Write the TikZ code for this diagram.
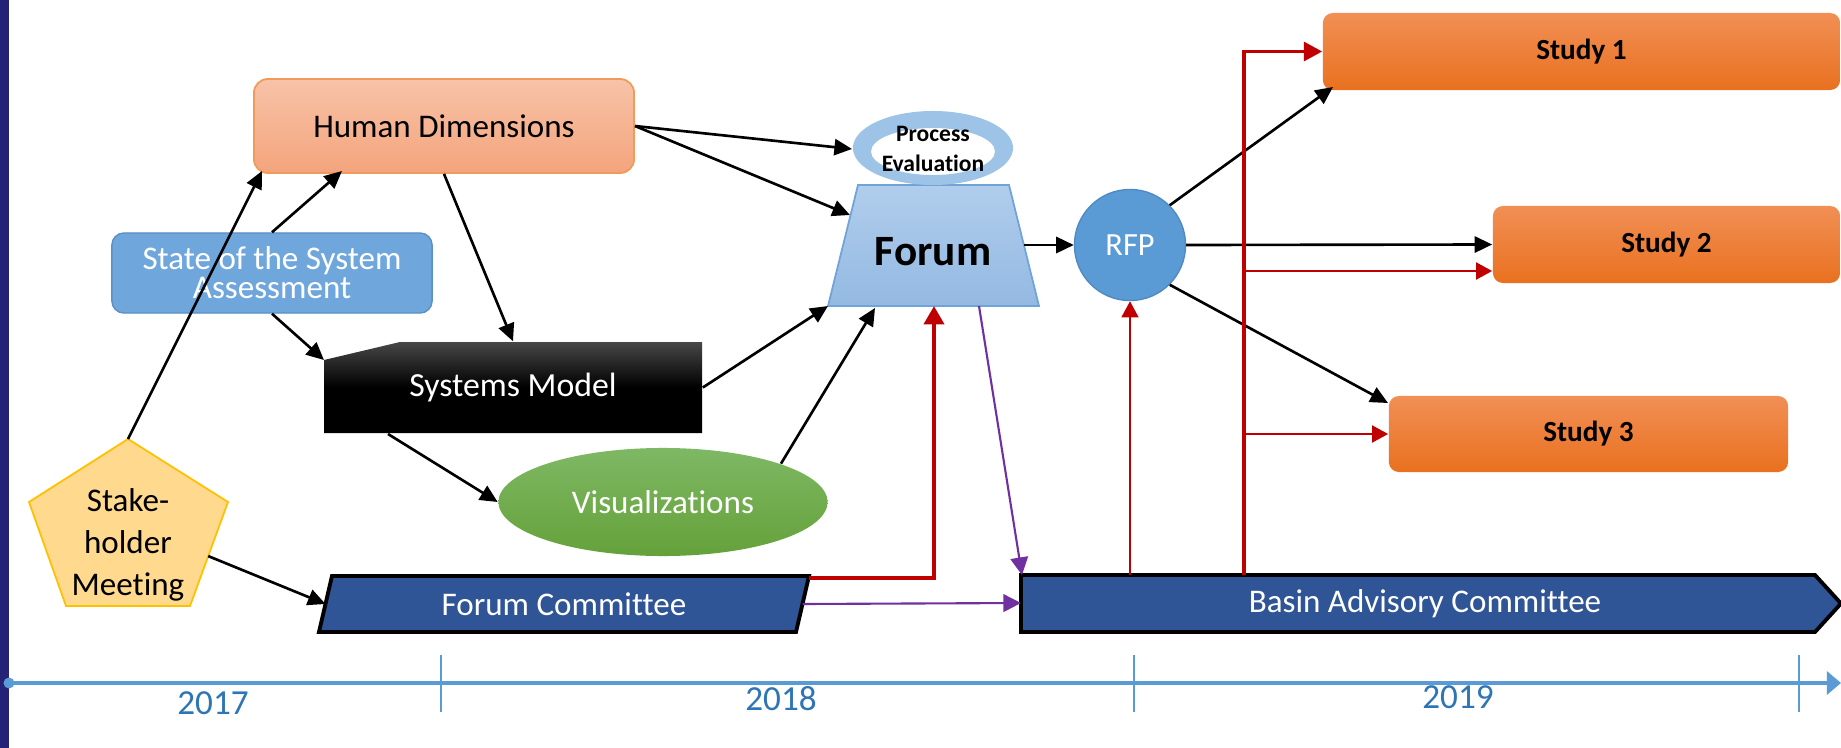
\documentclass[tikz,border=0pt]{standalone}
\usepackage{fontspec}
\setmainfont{Carlito}[Ligatures=NoCommon]
\usetikzlibrary{arrows.meta,shapes.geometric,calc}
\definecolor{navy}{HTML}{232277}
\definecolor{hdtop}{HTML}{F7C3A8}
\definecolor{hdbot}{HTML}{F4A47C}
\definecolor{hdborder}{HTML}{F19A5C}
\definecolor{ssafill}{HTML}{6FA7DC}
\definecolor{ssaborder}{HTML}{5A8FC8}
\definecolor{vistop}{HTML}{7EB864}
\definecolor{visbot}{HTML}{65A13A}
\definecolor{pentfill}{HTML}{FFD98E}
\definecolor{pentborder}{HTML}{FFC000}
\definecolor{fcblue}{HTML}{2F5597}
\definecolor{forumtop}{HTML}{B0CDEC}
\definecolor{forumbot}{HTML}{94B9E2}
\definecolor{forumborder}{HTML}{6FA3DA}
\definecolor{ringc}{HTML}{9DC3E6}
\definecolor{rfpc}{HTML}{5B9BD5}
\definecolor{rfpborder}{HTML}{4F8AC3}
\definecolor{stop}{HTML}{F18F55}
\definecolor{sbot}{HTML}{E9711F}
\definecolor{redc}{HTML}{C00000}
\definecolor{purplec}{HTML}{7030A0}
\definecolor{tlc}{HTML}{5B9BD5}
\definecolor{yearc}{HTML}{2E75B6}
\tikzset{
  txt/.style={font=\fontsize{9.4}{11.3}\selectfont, inner sep=0pt},
  hdbox/.style={rectangle, rounded corners=0.14cm, minimum width=3.80cm, minimum height=0.94cm,
    top color=hdtop, bottom color=hdbot, draw=hdborder, line width=0.5pt, txt},
  ssabox/.style={rectangle, rounded corners=0.12cm, minimum width=3.20cm, minimum height=0.80cm,
    fill=ssafill, draw=ssaborder, line width=0.4pt, text=white, align=center,
    font=\fontsize{9.4}{8.2}\selectfont},
  visbox/.style={ellipse, minimum width=3.29cm, minimum height=1.08cm, inner sep=0pt,
    top color=vistop, bottom color=visbot, text=white, txt},
  studybox/.style={rectangle, rounded corners=0.1cm, minimum height=0.77cm,
    top color=stop, bottom color=sbot, font=\bfseries\fontsize{8.3}{10}\selectfont},
  rfpbox/.style={circle, minimum size=1.11cm, inner sep=0pt, fill=rfpc, draw=rfpborder,
    line width=0.4pt, text=white, font=\fontsize{9.2}{11}\selectfont},
  arr/.style={-{Triangle[length=5pt,width=4.6pt]}, line width=0.75pt, draw=black},
  redthick/.style={-{Triangle[length=5.2pt,width=5.6pt]}, line width=1.25pt, draw=redc},
  redmid/.style={-{Triangle[length=5.2pt,width=5.4pt]}, line width=0.9pt, draw=redc},
  redthin/.style={-{Triangle[length=4.6pt,width=4.8pt]}, line width=0.6pt, draw=redc},
  purp/.style={-{Triangle[length=5pt,width=5pt]}, line width=0.6pt, draw=purplec},
  yearlbl/.style={text=yearc, font=\fontsize{10}{12}\selectfont, inner sep=0pt},
  tick/.style={draw=tlc, line width=0.35pt}
}
\begin{document}
\begin{tikzpicture}[x=0.01cm,y=-0.01cm]
\useasboundingbox (0,0) rectangle (1841,748);
\fill[white] (0,0) rectangle (1841,748);
\fill[navy] (0,0) rectangle (9,748);

% ---------- timeline ----------
\coordinate (tl0) at (9,683);
\coordinate (tl1) at (1841,683);
\fill[tlc] (tl0) circle (0.055cm);
\draw[tlc, line width=1.2pt, -{Triangle[length=4pt,width=6.5pt]}] (tl0) -- (tl1);
\draw[tick] (441,655) -- (441,712);
\draw[tick] (1134,655) -- (1134,712);
\draw[tick] (1799,655) -- (1799,712);
\node[yearlbl] (y17) at (213,703) {2017};
\node[yearlbl] (y18) at (781,699) {2018};
\node[yearlbl] (y19) at (1458,697) {2019};

% ---------- shapes ----------
\node[hdbox] (hd) at (444,126) {Human Dimensions};
\node[ssabox] (ssa) at (272,273) {State of the System\\Assessment};

% systems model (snipped corner)
\path[top color=black!72, bottom color=black, middle color=black]
  (324,360) -- (400,342) -- (702,342) -- (702,433) -- (324,433) -- cycle;
\node[txt, text=white, minimum width=3.78cm, minimum height=0.91cm, font=\fontsize{9.6}{11.5}\selectfont] (sm) at (513,387.5) {Systems Model};
\coordinate (smTL) at (324,360);

\node[visbox] (vis) at (663,502) {Visualizations};

% stakeholder pentagon
\coordinate (shT) at (128,439);
\coordinate (shL) at (29,502);
\coordinate (shBL) at (66,606);
\coordinate (shBR) at (190,606);
\coordinate (shR) at (228,502);
\path[fill=pentfill, draw=pentborder, line width=0.5pt] (shT) -- (shR) -- (shBR) -- (shBL) -- (shL) -- cycle;
\node[align=center, font=\fontsize{9.4}{12}\selectfont, inner sep=0pt] (sh) at (128,545) {Stake-\\holder\\Meeting};

% forum committee parallelogram
\path[fill=fcblue, draw=black, line width=1.1pt] (332,576) -- (809,576) -- (796,632) -- (319,632) -- cycle;
\node[txt, text=white] (fc) at (564,604) {Forum Committee};
\coordinate (fcL) at (325.5,604);
\coordinate (fcR) at (802.5,604);
\coordinate (fcTR) at (809,578);

% basin advisory committee
\path[fill=fcblue, draw=black, line width=1.1pt] (1021,575) -- (1815,575) -- (1841,603.5) -- (1815,632) -- (1021,632) -- cycle;
\node[txt, text=white] (ba) at (1425,604) {Basin Advisory Committee};
\coordinate (baL) at (1021,603);
\coordinate (baTL) at (1022,575);
\coordinate (ba1) at (1130,575);
\coordinate (ba2) at (1244,575);

% forum trapezoid
\path[top color=forumtop, bottom color=forumbot] (858,185) -- (1009,185) -- (1039,306) -- (828,306) -- cycle;
\draw[forumborder, line width=0.5pt] (858,185) -- (1009,185) -- (1039,306) -- (828,306) -- cycle;
\node[font=\bfseries\fontsize{12.3}{14}\selectfont, inner sep=0pt] (forum) at (933,252) {Forum};
\coordinate (fR) at (1024,245);
\coordinate (fTL) at (850,215);
\coordinate (fBL) at (828,306);
\coordinate (fB1) at (875,308);
\coordinate (fB2) at (934,306);
\coordinate (fB3) at (979,306);

% process evaluation ring
\fill[ringc, even odd rule] (933,148) ellipse [x radius=0.80cm, y radius=0.37cm]
  (933,151.5) ellipse [x radius=0.62cm, y radius=0.235cm];
\node[align=center, font=\bfseries\fontsize{6.7}{8.5}\selectfont, inner sep=0pt] (pe) at (933,149) {Process\\Evaluation};
\coordinate (peL) at (852,149);

\node[rfpbox] (rfp) at (1130,245) {RFP};

\node[studybox, minimum width=5.17cm] (s1) at (1581.5,51.5) {Study 1};
\node[studybox, minimum width=3.47cm] (s2) at (1666.5,244.5) {Study 2};
\node[studybox, minimum width=3.99cm, minimum height=0.76cm] (s3) at (1588.5,434) {Study 3};

% ---------- black connectors ----------
\draw[arr] (ssa.north) -- (342,171);
\draw[arr] (shT) -- (262,171);
\draw[arr] (ssa.south) -- (smTL);
\draw[arr] (hd.south) -- (sm.north);
\draw[arr] (hd.east) -- (peL);
\draw[arr] (hd.east) -- (fTL);
\draw[arr] (sm.east) -- (fBL);
\draw[arr] (vis.18.6) -- (fB1);
\draw[arr] ($(shR)!0.52!(shBR)$) -- (fcL);
\draw[arr] (388,434) -- (vis.west);
\draw[arr] (fR) -- (rfp.west);
\draw[arr] (rfp.45) -- (1333,87);
\draw[arr] (rfp.east) -- (s2.west);
\draw[arr] (rfp.-45) -- (1388,403);

% ---------- red connectors ----------
\draw[redthick] (fcTR) -| (fB2);
\draw[redthin] (ba1) -- (rfp.south);
\draw[redmid] (ba2) |- (s1.west);
\coordinate (j2) at (1244,271);
\coordinate (j3) at (1244,434);
\draw[redthin, line width=0.75pt] (j2) -- (j2 -| s2.west);
\draw[redthin, line width=0.75pt] (j3) -- (s3.west);

% ---------- purple connectors ----------
\draw[purp] (fB3) -- (baTL);
\draw[purp] (fcR) -- (baL);
\end{tikzpicture}
\end{document}
